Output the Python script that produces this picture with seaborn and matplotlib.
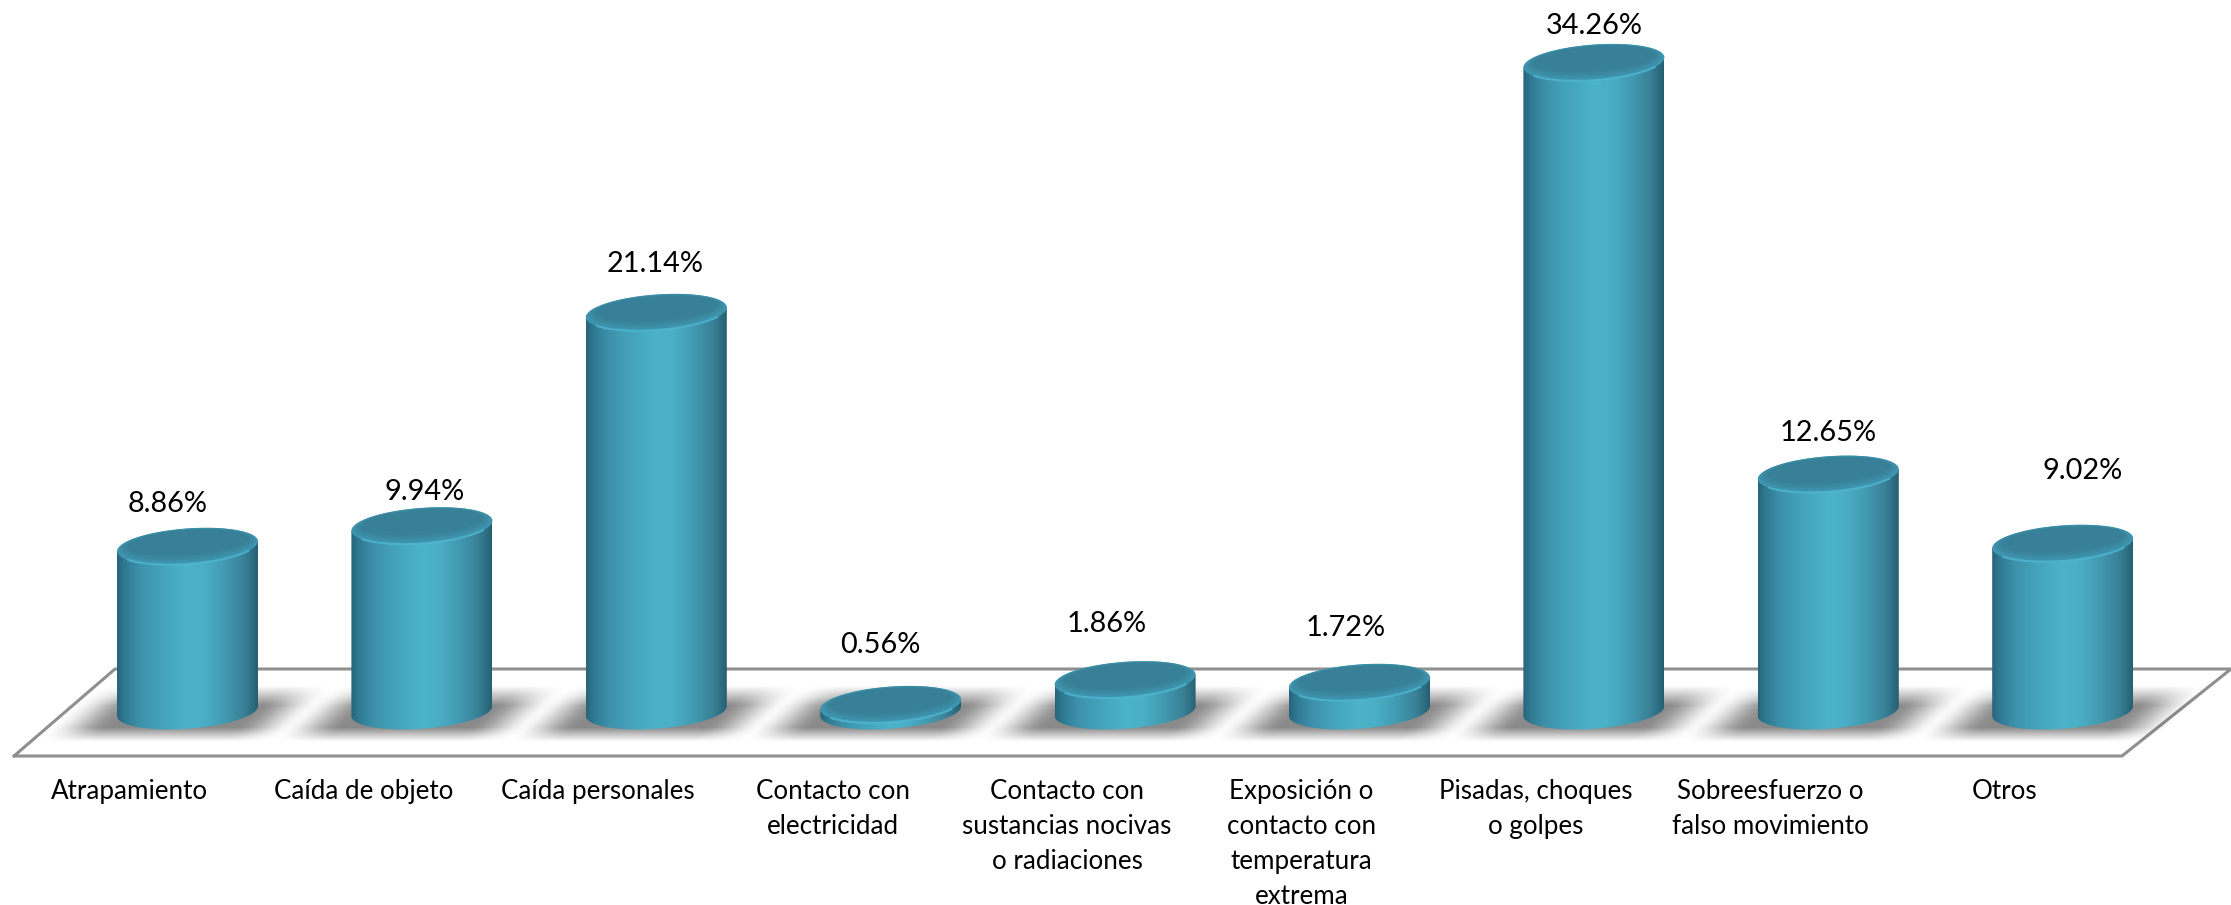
import numpy as np
import matplotlib
matplotlib.use("Agg")
import matplotlib.pyplot as plt
from matplotlib.colors import LinearSegmentedColormap
from matplotlib.patches import Polygon
import seaborn as sns

categories = ["Atrapamiento", "Caída de objeto", "Caída personales",
              "Contacto con\nelectricidad", "Contacto con\nsustancias nocivas\no radiaciones",
              "Exposición o\ncontacto con\ntemperatura\nextrema", "Pisadas, choques\no golpes",
              "Sobreesfuerzo o\nfalso movimiento", "Otros"]
values = [8.86, 9.94, 21.14, 0.56, 1.86, 1.72, 34.26, 12.65, 9.02]
value_labels = ["8.86%", "9.94%", "21.14%", "0.56%", "1.86%", "1.72%", "34.26%", "12.65%", "9.02%"]
label_dx_px = [-20, 3, -1, -10, -18, -14, 0, 0, 20]
label_gap_px = [24, 16, 30, 42, 38, 36, 19, 23, 54]

W, H = 2231, 905
X0, DX = 187.5, 234.4     # pixel of category 0, pixels per category
Y0, DY = 715.0, 19.05     # pixel of value 0, pixels per percent
BASE_PX = 711.0           # centre of the lower rim of each cylinder

sns.set_theme(style="white")
plt.rcParams["font.family"] = ["Lato", "DejaVu Sans"]

fig = plt.figure(figsize=(W / 100, H / 100), dpi=100, facecolor="white")
ax = fig.add_axes([0, 0, 1, 1])

def xd(px):
    return (px - X0) / DX

def yd(px):
    return (Y0 - px) / DY

# floor
floor_px = [(14, 756), (2122, 756), (2231, 669), (115, 669), (14, 756)]
ax.plot([xd(p[0]) for p in floor_px], [yd(p[1]) for p in floor_px],
        color="#8f8f8f", lw=2.2, zorder=1, solid_joinstyle="miter")

sns.barplot(x=categories, y=values, color="#42a0bd", width=0.6, saturation=1,
            ax=ax, zorder=3)

body_cmap = LinearSegmentedColormap.from_list("body", [
    (0.00, "#27647a"), (0.05, "#2f7891"), (0.16, "#3d91aa"), (0.30, "#43a2ba"),
    (0.50, "#4cb3cc"), (0.62, "#4aafc6"), (0.78, "#4198af"), (0.90, "#3a8197"),
    (0.97, "#2c6a7f"), (1.00, "#265f72")])
gradient = np.linspace(0, 1, 256).reshape(1, -1)

A_PX = 70.5   # half width of a cylinder in pixels
B_PX = 17.8
SHEAR = 0.07
t = np.linspace(0, 2 * np.pi, 181)

def ellipse(cx_px, cy_px, scale=1.0, a=A_PX, b=B_PX):
    xs = cx_px + scale * a * np.cos(t)
    ys = cy_px + scale * (b * np.sin(t) - SHEAR * a * np.cos(t))
    return xs, ys

bars = list(ax.patches)

# soft shadows on the floor
yy, xx = np.mgrid[682:744, -175:176]
for i, patch in enumerate(bars):
    cx = X0 + DX * i
    shift = (712 - yy) * 1.1
    fx = np.clip((124 - np.abs(xx - shift)) / 62, 0, 1)
    fy = np.clip((yy - 685) / 20, 0, 1) * np.clip((741 - yy) / 14, 0, 1)
    alpha = 0.46 * (fx * fx * (3 - 2 * fx)) * fy
    rgba = np.zeros(alpha.shape + (4,))
    rgba[..., 3] = alpha
    ax.imshow(rgba, aspect="auto", zorder=2, interpolation="bilinear",
              extent=(xd(cx - 175), xd(cx + 176), yd(744), yd(682)))

# cylinders, built on the bars that seaborn placed
for i, patch in enumerate(bars):
    patch.set_visible(False)
    cx = X0 + DX * (patch.get_x() + patch.get_width() / 2)
    top = Y0 - DY * patch.get_height()
    lower = t[:91]
    bx = cx + A_PX * np.cos(lower)
    by = BASE_PX + B_PX * np.sin(lower) - SHEAR * A_PX * np.cos(lower)
    outline_x = np.r_[bx, cx - A_PX, cx + A_PX]
    outline_y = np.r_[by, top + SHEAR * A_PX, top - SHEAR * A_PX]
    clip = Polygon(np.c_[xd(outline_x), yd(outline_y)], closed=True,
                   transform=ax.transData, fc="none", ec="none")
    ax.add_patch(clip)
    im = ax.imshow(gradient, cmap=body_cmap, aspect="auto", zorder=4,
                   extent=(xd(cx - A_PX), xd(cx + A_PX), yd(H), yd(0)))
    im.set_clip_path(clip)
    # cap
    tx, ty = ellipse(cx, top)
    ax.fill(xd(tx), yd(ty), color="#3f96b0", lw=0, zorder=5)
    hx, hy = tx[15:75], ty[15:75]
    ax.plot(xd(hx), yd(hy), color="#50b8d3", lw=1.4, alpha=0.8, zorder=6)
    for k, col in enumerate(["#3d90a9", "#3b8aa2", "#39859c", "#378097"]):
        s = 0.97 - 0.035 * k
        ix, iy = ellipse(cx, top - 1.0 - 0.8 * k, s, b=B_PX * (0.96 - 0.05 * k))
        ax.fill(xd(ix), yd(iy), color=col, lw=0, zorder=6 + k)
    ax.text(xd(cx + label_dx_px[i]), yd(top - B_PX - label_gap_px[i]), value_labels[i],
            ha="center", va="center", fontsize=20.8, color="black", zorder=12)
    ax.text(xd(cx - 58), yd(779), categories[i], ha="center", va="top",
            fontsize=18.7, color="black", linespacing=1.5, zorder=12)

ax.set_xlim(xd(0), xd(W))
ax.set_ylim(yd(H), yd(0))
ax.axis("off")
fig.savefig("out.png", dpi=100, facecolor="white")
